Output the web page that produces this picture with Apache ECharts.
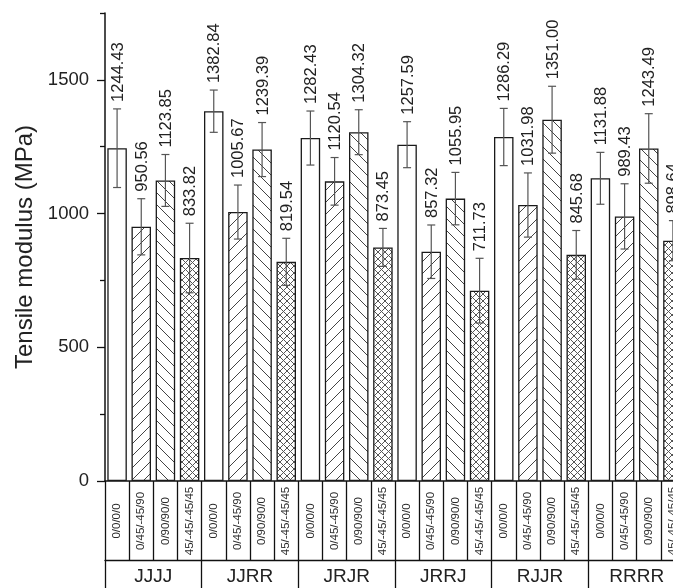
<!DOCTYPE html>
<html>
<head>
<meta charset="utf-8">
<script src="https://cdn.jsdelivr.net/npm/echarts@6/dist/echarts.min.js"></script>
<style>
html,body{margin:0;padding:0;background:#fff;overflow:hidden;}
#chart{width:673px;height:588px;}
</style>
</head>
<body>
<div id="chart"></div>
<script>
// ---- data ----
const groups = ['JJJJ', 'JJRR', 'JRJR', 'JRRJ', 'RJJR', 'RRRR'];
const layups = ['0/0/0/0', '0/45/-45/90', '0/90/90/0', '45/-45/-45/45'];
const JJJJ = [1244.43, 950.56, 1123.85, 833.82];
const JJRR = [1382.84, 1005.67, 1239.39, 819.54];
const JRJR = [1282.43, 1120.54, 1304.32, 873.45];
const JRRJ = [1257.59, 857.32, 1055.95, 711.73];
const RJJR = [1286.29, 1031.98, 1351.00, 845.68];
const RRRR = [1131.88, 989.43, 1243.49, 898.64];
const JJJJ_err = [147, 105, 97, 130];
const JJRR_err = [79, 101, 101, 88];
const JRJR_err = [101, 89, 84, 71];
const JRRJ_err = [86, 100, 98, 121];
const RJJR_err = [107, 120, 125, 91];
const RRRR_err = [97, 122, 130, 75];
const yTicks = [0, 500, 1000, 1500];
const yMinorTicks = [250, 750, 1250, 1750];

const groupValues = [JJJJ, JJRR, JRJR, JRRJ, RJJR, RRRR];
const groupErrors = [JJJJ_err, JJRR_err, JRJR_err, JRRJ_err, RJJR_err, RRRR_err];

// ---- hatch patterns ----
function makePattern(kind) {
  const s = kind === 'x' ? 7 : 12;
  const c = document.createElement('canvas');
  c.width = s; c.height = s;
  const ctx = c.getContext('2d');
  ctx.fillStyle = '#fff';
  ctx.fillRect(0, 0, s, s);
  ctx.strokeStyle = kind === 'x' ? '#555' : '#444';
  ctx.lineWidth = 1;
  function fwd() {
    ctx.beginPath();
    ctx.moveTo(-1, s + 1); ctx.lineTo(s + 1, -1);
    ctx.moveTo(-1, 1); ctx.lineTo(1, -1);
    ctx.moveTo(s - 1, s + 1); ctx.lineTo(s + 1, s - 1);
    ctx.stroke();
  }
  function back() {
    ctx.beginPath();
    ctx.moveTo(-1, -1); ctx.lineTo(s + 1, s + 1);
    ctx.moveTo(-1, s - 1); ctx.lineTo(1, s + 1);
    ctx.moveTo(s - 1, -1); ctx.lineTo(s + 1, 1);
    ctx.stroke();
  }
  if (kind === '/') fwd();
  else if (kind === '\\') back();
  else { fwd(); back(); }
  return { image: c, repeat: 'repeat' };
}
const fills = ['#ffffff', makePattern('/'), makePattern('\\'), makePattern('x')];

// ---- build series data ----
const categories = [];
const groupCats = [];
const barData = [];
const errData = [];
groups.forEach((g, gi) => {
  groupCats.push(g);
  layups.forEach((l, li) => {
    const idx = categories.length;
    categories.push(l);
    barData.push({ value: groupValues[gi][li], itemStyle: { color: fills[li] } });
    errData.push([idx, groupValues[gi][li], groupErrors[gi][li]]);
  });
});

const FONT = '"Liberation Sans", Arial, sans-serif';

const chart = echarts.init(document.getElementById('chart'), null, { renderer: 'canvas' });
chart.setOption({
  animation: false,
  backgroundColor: '#fff',
  grid: { left: 105, top: 13, width: 580, height: 468, outerBoundsMode: 'none', containLabel: false },
  xAxis: [
    {
      type: 'category',
      data: categories,
      position: 'bottom',
      axisLine: { show: true, lineStyle: { color: '#111', width: 1.5 } },
      axisTick: { show: true, interval: 0, alignWithLabel: false, length: 79, inside: false, lineStyle: { color: '#111', width: 1.3 } },
      axisLabel: {
        interval: 0, rotate: 90, margin: 40, align: 'center', verticalAlign: 'middle',
        fontSize: 11.5, color: '#2a2a2a', fontFamily: FONT
      }
    },
    {
      type: 'category',
      data: groupCats,
      position: 'bottom',
      offset: 79,
      axisLine: { show: true, onZero: false, lineStyle: { color: '#111', width: 1.3 } },
      axisTick: { show: true, interval: 0, alignWithLabel: false, length: 40, lineStyle: { color: '#111', width: 1.3 } },
      axisLabel: { interval: 0, margin: 7, fontSize: 19, color: '#222', fontFamily: FONT }
    }
  ],
  yAxis: [
    {
      type: 'value',
      min: 0, max: 1750, interval: 250,
      name: 'Tensile modulus (MPa)',
      nameLocation: 'middle',
      nameGap: 62,
      nameTextStyle: { fontSize: 24, color: '#222', fontFamily: FONT },
      axisLine: { show: true, lineStyle: { color: '#111', width: 1.5 } },
      axisTick: { show: true, length: 8, customValues: yTicks, lineStyle: { color: '#111', width: 1.3 } },
      axisLabel: { show: true, customValues: yTicks, formatter: function (v) { return String(v); }, margin: 16, fontSize: 18.5, color: '#222', fontFamily: FONT },
      splitLine: { show: false }
    },
    {
      type: 'value',
      min: 0, max: 1750, interval: 250,
      position: 'left',
      axisLine: { show: false },
      axisTick: { show: true, length: 5, customValues: yMinorTicks, lineStyle: { color: '#111', width: 1.3 } },
      axisLabel: { show: false },
      splitLine: { show: false }
    }
  ],
  series: [
    {
      type: 'bar',
      xAxisIndex: 0,
      yAxisIndex: 0,
      data: barData,
      barWidth: 19.5,
      itemStyle: { borderColor: '#1a1a1a', borderWidth: 1.3 }
    },
    {
      type: 'custom',
      xAxisIndex: 0,
      yAxisIndex: 0,
      data: errData,
      encode: { x: 0, y: 1 },
      z: 5,
      clip: false,
      renderItem: function (params, api) {
        const i = api.value(0);
        const v = api.value(1);
        const e = api.value(2);
        const top = api.coord([i, v + e]);
        const bot = api.coord([i, v - e]);
        const x = top[0];
        const cap = 4;
        const ls = { stroke: '#555', lineWidth: 1.2 };
        return {
          type: 'group',
          children: [
            { type: 'line', shape: { x1: x, y1: top[1], x2: x, y2: bot[1] }, style: ls },
            { type: 'line', shape: { x1: x - cap, y1: top[1], x2: x + cap, y2: top[1] }, style: ls },
            { type: 'line', shape: { x1: x - cap, y1: bot[1], x2: x + cap, y2: bot[1] }, style: ls },
            {
              type: 'text',
              x: x + 1,
              y: top[1] - 7,
              rotation: Math.PI / 2,
              style: {
                text: v.toFixed(2),
                fill: '#222',
                fontSize: 16.5,
                fontFamily: FONT,
                align: 'left',
                verticalAlign: 'middle'
              }
            }
          ]
        };
      }
    }
  ]
});
</script>
</body>
</html>
